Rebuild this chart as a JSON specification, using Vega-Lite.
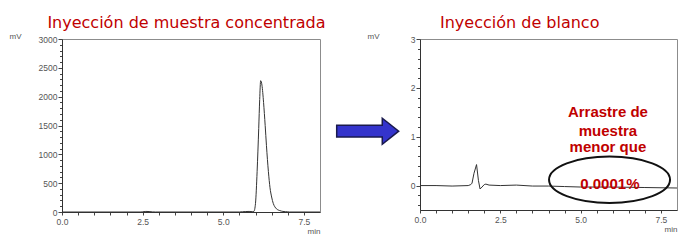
{
  "$schema": "https://vega.github.io/schema/vega-lite/v6.json",
  "background": "white",
  "padding": {"left": 8, "top": 14, "right": 5, "bottom": 5},
  "bounds": "flush",
  "spacing": 0,
  "datasets": {
    "conc": [
      {"t": 0, "v": 0}, {"t": 2.45, "v": 0}, {"t": 2.5, "v": 4}, {"t": 2.6, "v": 10}, {"t": 2.7, "v": 8}, {"t": 2.8, "v": 2}, {"t": 2.9, "v": 0},
      {"t": 5.5, "v": 0}, {"t": 5.6, "v": 5}, {"t": 5.7, "v": 8}, {"t": 5.8, "v": 10}, {"t": 5.9, "v": 6}, {"t": 5.95, "v": 10},
      {"t": 6.0, "v": 150}, {"t": 6.05, "v": 700}, {"t": 6.1, "v": 1450}, {"t": 6.13, "v": 1950}, {"t": 6.16, "v": 2277},
      {"t": 6.2, "v": 2200}, {"t": 6.25, "v": 1900}, {"t": 6.3, "v": 1500}, {"t": 6.34, "v": 1150}, {"t": 6.4, "v": 700},
      {"t": 6.45, "v": 420}, {"t": 6.5, "v": 260}, {"t": 6.55, "v": 150}, {"t": 6.6, "v": 90}, {"t": 6.65, "v": 55},
      {"t": 6.75, "v": 25}, {"t": 6.85, "v": 10}, {"t": 7.0, "v": 3}, {"t": 7.05, "v": 0}, {"t": 8.0, "v": 0}
    ],
    "blanco": [
      {"t": 0, "v": 0.0}, {"t": 0.5, "v": 0.0}, {"t": 1.0, "v": -0.01}, {"t": 1.5, "v": 0.0}, {"t": 1.58, "v": 0.02},
      {"t": 1.62, "v": 0.05}, {"t": 1.68, "v": 0.25}, {"t": 1.76, "v": 0.43}, {"t": 1.82, "v": 0.1}, {"t": 1.87, "v": -0.07},
      {"t": 1.93, "v": -0.03}, {"t": 2.0, "v": 0.02}, {"t": 2.05, "v": 0.03}, {"t": 2.15, "v": 0.01}, {"t": 2.5, "v": 0.0},
      {"t": 3.0, "v": 0.01}, {"t": 3.5, "v": -0.01}, {"t": 4.0, "v": -0.01}, {"t": 4.5, "v": -0.02}, {"t": 5.0, "v": -0.03},
      {"t": 6.0, "v": -0.03}, {"t": 7.0, "v": -0.04}, {"t": 8.0, "v": -0.05}
    ],
    "arrow": [{"x": 47.7, "y": 92.2}],
    "ellipse": [{"t": 5.9, "v": 0.119}],
    "notes": [
      {"t": 5.85, "v": 1.398, "label": "Arrastre de"},
      {"t": 5.85, "v": 1.021, "label": "muestra"},
      {"t": 5.85, "v": 0.682, "label": "menor que"},
      {"t": 5.91, "v": -0.07, "label": "0.0001%"}
    ]
  },
  "config": {
    "view": {"stroke": "#8c8c8c", "strokeWidth": 1},
    "axis": {
      "grid": false, "domainColor": "#333333", "tickColor": "#444444",
      "labelFont": "Liberation Sans", "labelFontSize": 8.5, "labelColor": "#555555",
      "titleFont": "Liberation Sans", "titleFontSize": 8, "titleColor": "#555555", "titleFontWeight": "normal",
      "labelOverlap": false, "labelFlush": false
    },
    "title": {"font": "DejaVu Sans", "fontSize": 16, "fontWeight": "normal", "color": "#c00000", "anchor": "start", "frame": "group", "baseline": "alphabetic", "offset": 1}
  },
  "hconcat": [
    {
      "width": 258, "height": 173,
      "title": {"text": "Inyección de muestra concentrada", "dx": -14.6},
      "data": {"name": "conc"},
      "mark": {"type": "line", "color": "#333333", "strokeWidth": 1, "interpolate": "monotone"},
      "encoding": {
        "x": {"field": "t", "type": "quantitative", "scale": {"domain": [0, 8], "nice": false, "zero": false},
          "axis": {"values": [0, 0.5, 1, 1.5, 2, 2.5, 3, 3.5, 4, 4.5, 5, 5.5, 6, 6.5, 7, 7.5], "format": ".1f",
            "labelExpr": "datum.value % 2.5 === 0 ? datum.label : ''", "tickSize": 3, "labelPadding": 2,
            "title": "min", "titleAnchor": "end", "titleAlign": "right", "titleX": 258, "titleY": 21, "titleBaseline": "alphabetic"}},
        "y": {"field": "v", "type": "quantitative", "scale": {"domain": [0, 3000], "nice": false},
          "axis": {"values": [0, 100, 200, 300, 400, 500, 600, 700, 800, 900, 1000, 1100, 1200, 1300, 1400, 1500, 1600, 1700, 1800, 1900, 2000, 2100, 2200, 2300, 2400, 2500, 2600, 2700, 2800, 2900, 3000],
            "format": "d", "labelExpr": "datum.value % 500 === 0 ? datum.label : ''",
            "tickSize": {"condition": {"test": "datum.value % 500 === 0", "value": 4}, "value": 2.5}, "labelPadding": 1,
            "title": "mV", "titleAngle": 0, "titleAlign": "left", "titleX": -53, "titleY": -1, "titleBaseline": "alphabetic"}}
      }
    },
    {
      "width": 100, "height": 171,
      "view": {"stroke": null},
      "data": {"name": "arrow"},
      "mark": {"type": "point", "shape": "M-1,-0.19L0.47,-0.19L0.47,-0.42L1,0L0.47,0.42L0.47,0.19L-1,0.19Z", "size": 3844, "filled": true, "fill": "#3434cc", "stroke": "#1a1a4d", "strokeWidth": 1.5, "opacity": 1},
      "encoding": {
        "x": {"field": "x", "type": "quantitative", "scale": {"domain": [0, 100]}, "axis": null},
        "y": {"field": "y", "type": "quantitative", "scale": {"domain": [0, 171], "reverse": true}, "axis": null}
      }
    },
    {
      "width": 257, "height": 171,
      "title": {"text": "Inyección de blanco", "dx": 20},
      "encoding": {
        "x": {"field": "t", "type": "quantitative", "scale": {"domain": [0, 8], "nice": false, "zero": false},
          "axis": {"values": [0, 0.5, 1, 1.5, 2, 2.5, 3, 3.5, 4, 4.5, 5, 5.5, 6, 6.5, 7, 7.5], "format": ".1f",
            "labelExpr": "datum.value % 2.5 === 0 ? datum.label : ''", "tickSize": 3, "labelPadding": 2,
            "title": "min", "titleAnchor": "end", "titleAlign": "right", "titleX": 257, "titleY": 21, "titleBaseline": "alphabetic"}},
        "y": {"field": "v", "type": "quantitative", "scale": {"domain": [-0.5, 3], "nice": false, "zero": false},
          "axis": {"values": [-0.4, -0.2, 0, 0.2, 0.4, 0.6, 0.8, 1, 1.2, 1.4, 1.6, 1.8, 2, 2.2, 2.4, 2.6, 2.8, 3],
            "format": ".1f", "labelExpr": "datum.value === 0 || datum.value === 1 || datum.value === 2 || datum.value === 3 ? format(datum.value, '.0f') : ''",
            "tickSize": {"condition": {"test": "datum.value === 0 || datum.value === 1 || datum.value === 2 || datum.value === 3", "value": 4}, "value": 2.5},
            "labelPadding": 1,
            "title": "mV", "titleAngle": 0, "titleAlign": "left", "titleX": -53, "titleY": -1, "titleBaseline": "alphabetic"}}
      },
      "layer": [
        {"data": {"name": "blanco"}, "mark": {"type": "line", "color": "#333333", "strokeWidth": 1}},
        {"data": {"name": "ellipse"},
          "mark": {"type": "point", "shape": "M-1,0C-1,-0.2115,-0.5523,-0.383,0,-0.383C0.5523,-0.383,1,-0.2115,1,0C1,0.2115,0.5523,0.383,0,0.383C-0.5523,0.383,-1,0.2115,-1,0Z",
            "size": 14641, "filled": false, "stroke": "#111111", "strokeWidth": 2, "opacity": 1}},
        {"data": {"name": "notes"},
          "mark": {"type": "text", "font": "Liberation Sans", "fontSize": 15, "fontWeight": "bold", "color": "#c00000", "align": "center", "baseline": "alphabetic"},
          "encoding": {"text": {"field": "label"}}}
      ]
    }
  ]
}
